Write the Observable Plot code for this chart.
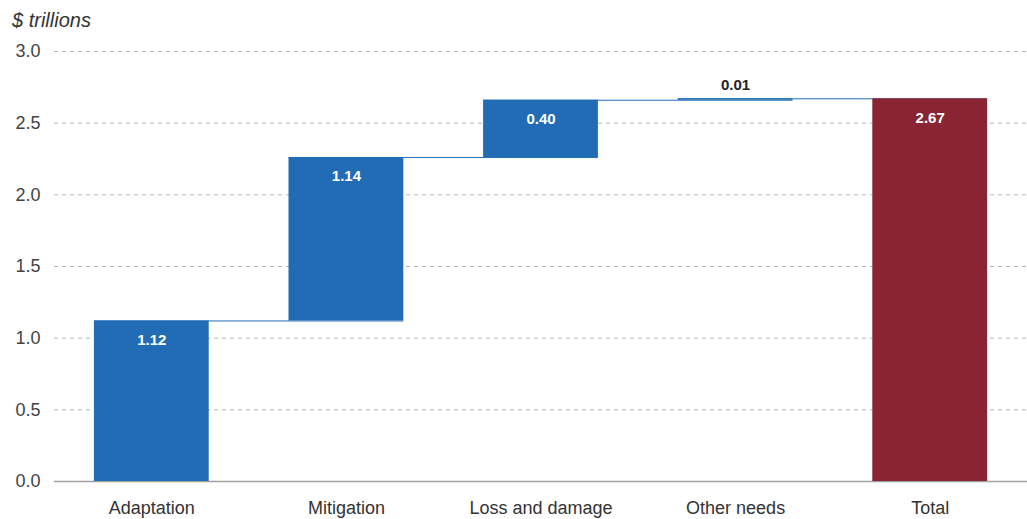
<!DOCTYPE html>
<html>
<head>
<meta charset="utf-8">
<script src="https://cdn.jsdelivr.net/npm/d3@7"></script>
<script src="https://cdn.jsdelivr.net/npm/@observablehq/plot@0.6"></script>
<style>
  html, body { margin: 0; padding: 0; background: #fff; overflow: hidden; }
  #unit { font-family: "Liberation Sans", Arial, sans-serif; font-style: italic; font-size: 20px; color: #333;
          height: 24px; line-height: 24px; padding: 8px 0 0 12px; }
</style>
</head>
<body>
<div id="unit">$ trillions</div>
<div id="chart"></div>
<script>
const categories = ["Adaptation", "Mitigation", "Loss and damage", "Other needs", "Total"];
const values = [1.12, 1.14, 0.40, 0.01, 2.67];
const isTotal = [false, false, false, false, true];
const labelInside = [true, true, true, false, true];
const yTicks = [0, 0.5, 1.0, 1.5, 2.0, 2.5, 3.0];

const blue = "#226cb5";
const red = "#8a2432";

let run = 0;
const rows = categories.map((c, i) => {
  let start, end;
  if (isTotal[i]) { start = 0; end = values[i]; run = values[i]; }
  else { start = run; end = run + values[i]; run = end; }
  return {category: c, start, end, value: values[i], total: isTotal[i], inside: labelInside[i]};
});
const connectors = rows.slice(0, -1).map((r, i) => ({from: r.category, to: rows[i + 1].category, level: r.end}));

const chart = Plot.plot({
  width: 1027,
  height: 487,
  marginLeft: 54,
  marginRight: 0,
  marginTop: 19,
  marginBottom: 38,
  style: {fontFamily: "Liberation Sans, Arial, sans-serif", fontSize: "18px", color: "#333", background: "#fff"},
  x: {domain: categories, paddingInner: 0.41, paddingOuter: 0.205, round: false, label: null},
  y: {domain: [0, 3], label: null},
  marks: [
    Plot.ruleY(yTicks.filter(d => d > 0), {stroke: "#b5b5b5", strokeDasharray: "4,4", strokeWidth: 1}),
    Plot.ruleY([0], {stroke: "#a0a0a0", strokeWidth: 1.5}),
    Plot.ruleY(connectors, {x1: "from", x2: "to", y: "level", stroke: blue, strokeWidth: 1}),
    Plot.barY(rows, {x: "category", y1: "start", y2: "end", fill: d => d.total ? red : blue, insetLeft: 0, insetRight: 0}),
    Plot.text(rows.filter(d => d.inside), {x: "category", y: "end", text: d => d.value.toFixed(2), dy: 19, fill: "white", fontWeight: "bold", fontSize: 15}),
    Plot.text(rows.filter(d => !d.inside), {x: "category", y: "end", text: d => d.value.toFixed(2), dy: -14, fill: "#222", fontWeight: "bold", fontSize: 15}),
    Plot.axisY({ticks: yTicks, tickFormat: d3.format(".1f"), tickSize: 0, tickPadding: 14, fill: "#444"}),
    Plot.axisX({tickSize: 0, tickPadding: 20, fill: "#333"})
  ]
});
document.getElementById("chart").appendChild(chart);
</script>
</body>
</html>
